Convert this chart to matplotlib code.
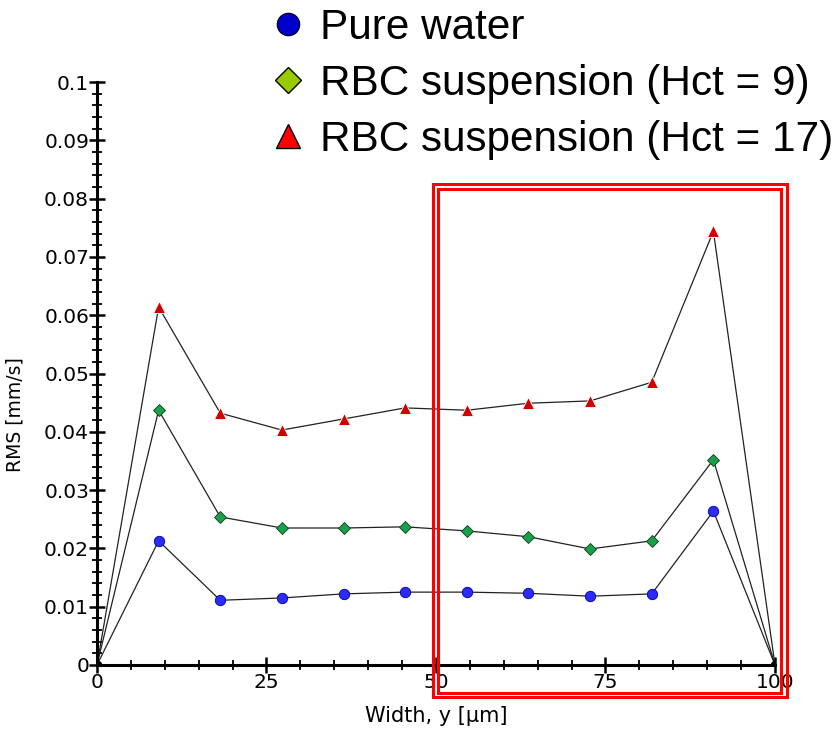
import numpy as np
import matplotlib.pyplot as plt
from matplotlib.lines import Line2D
from matplotlib.patches import Rectangle
from matplotlib.ticker import MultipleLocator, FuncFormatter

plt.rcParams['font.family'] = ['DejaVu Sans']

# positions across the channel width (µm)
width = [0, 9.09, 18.18, 27.27, 36.36, 45.45, 54.55, 63.64, 72.73, 81.82, 90.91, 100]

# RMS velocity (mm/s)
rms_water = [0, 0.0213, 0.0111, 0.0115, 0.0122, 0.0125, 0.0125, 0.0123, 0.0118, 0.0122, 0.0264, 0]
rms_hct9 = [0, 0.0437, 0.0254, 0.0235, 0.0235, 0.0237, 0.0230, 0.0220, 0.0199, 0.0213, 0.0352, 0]
rms_hct17 = [0, 0.0614, 0.0432, 0.0403, 0.0422, 0.0441, 0.0437, 0.0449, 0.0453, 0.0485, 0.0744, 0]

labels = ['Pure water', 'RBC suspension (Hct = 9)', 'RBC suspension (Hct = 17)']

fig = plt.figure(figsize=(8.37, 7.30), dpi=100)
ax = fig.add_axes([97 / 837, 65 / 730, 678 / 837, 583 / 730])

series = [
    (rms_water, 'o', '#2b2bff', '#00008b', 7.5),
    (rms_hct9, 'D', '#1aa04a', '#0b3d1b', 6.5),
    (rms_hct17, '^', '#d10000', '#ffffff', 8),
]
for vals, mk, fc, ec, ms in series:
    ax.plot(width, vals, color='#222222', lw=0.9, zorder=2)
    ax.plot(width[1:-1], vals[1:-1], ls='none', marker=mk, ms=ms,
            mfc=fc, mec=ec, mew=0.6, zorder=3)
    # end points at the walls drawn dark
    ax.plot([width[0], width[-1]], [vals[0], vals[-1]], ls='none', marker=mk,
            ms=ms * 0.8, mfc='#111111', mec='#000000', zorder=4)

ax.set_xlim(0, 100)
ax.set_ylim(0, 0.1)
ax.xaxis.set_major_locator(MultipleLocator(25))
ax.xaxis.set_minor_locator(MultipleLocator(5))
ax.yaxis.set_major_locator(MultipleLocator(0.01))
ax.yaxis.set_minor_locator(MultipleLocator(0.002))
ax.yaxis.set_major_formatter(FuncFormatter(lambda v, p: '0' if abs(v) < 1e-9 else f'{v:.2f}'.rstrip('0')))

for s in ['top', 'right']:
    ax.spines[s].set_visible(False)
for s in ['left', 'bottom']:
    ax.spines[s].set_linewidth(2.2)
ax.tick_params(which='major', direction='inout', length=11.5, width=1.8, labelsize=14.5, pad=0)
ax.tick_params(which='minor', direction='inout', length=6.5, width=1.3)
ax.set_xlabel('Width, y [µm]', fontsize=15)
ax.set_ylabel('RMS [mm/s]', fontsize=13.5)
ax.xaxis.set_label_coords(0.501, -0.071)
ax.yaxis.set_label_coords(-0.107, 0.43)

handles = [
    Line2D([], [], ls='none', marker='o', ms=16, mfc='#0000cc', mec='#000033', mew=1),
    Line2D([], [], ls='none', marker='D', ms=13.5, mfc='#99cc00', mec='#000000', mew=1),
    Line2D([], [], ls='none', marker='^', ms=17, mfc='#ff0000', mec='#000000', mew=1),
]
fig.legend(handles, labels, loc='upper left', bbox_to_anchor=(272 / 837, 0.989),
           frameon=False, prop={'family': 'Liberation Sans', 'size': 30.4},
           handlelength=0.75, handletextpad=0.38,
           labelspacing=0.38, borderpad=0, borderaxespad=0)

# highlighted region (double red frame)
fig.patches.append(Rectangle((433 / 837, 33 / 730), 354 / 837, 513 / 730,
                             transform=fig.transFigure, fill=False, ec='#ff0000', lw=2.2))
fig.patches.append(Rectangle((438 / 837, 37 / 730), 343 / 837, 504 / 730,
                             transform=fig.transFigure, fill=False, ec='#ff0000', lw=2.2))

fig.savefig('out.png', dpi=100)
